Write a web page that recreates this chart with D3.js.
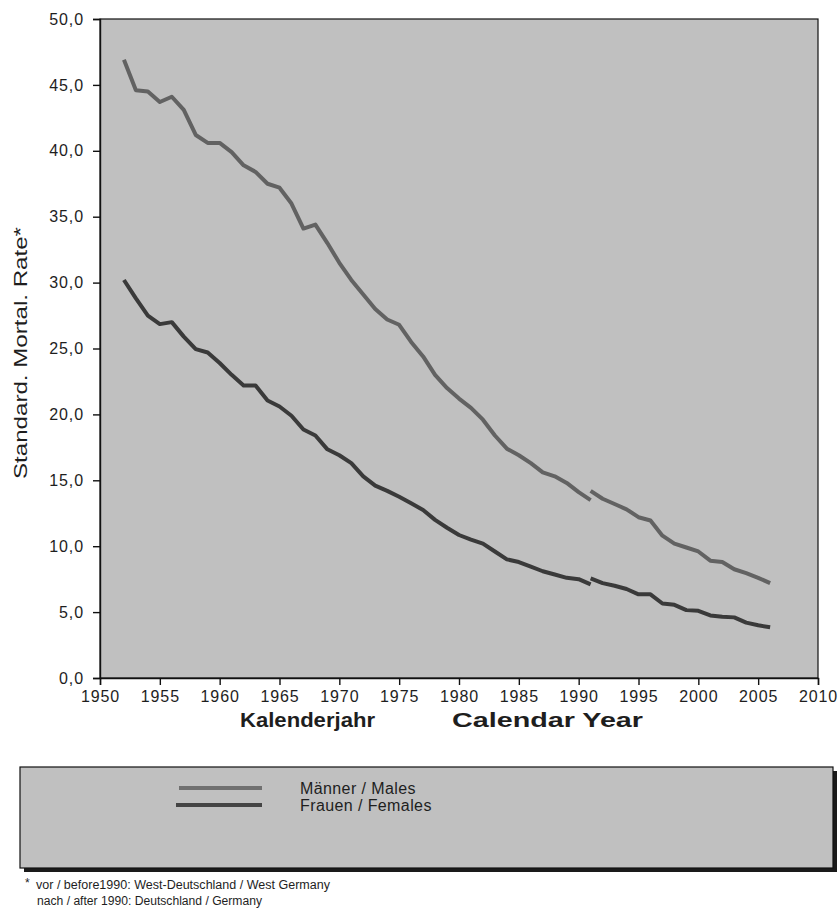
<!DOCTYPE html>
<html>
<head>
<meta charset="utf-8">
<script src="https://cdn.jsdelivr.net/npm/d3@7"></script>
<style>
  html, body { margin: 0; padding: 0; background: #fff; }
  svg { display: block; }
  text { font-family: Arial, "Liberation Sans", sans-serif; fill: #1e1e1e; }
</style>
</head>
<body>
<svg id="chart" width="840" height="917"></svg>
<script>
// Standardised mortality rate by calendar year
const yearsWest = d3.range(1952, 1992);   // 1952–1991, West Germany
const yearsAll  = d3.range(1991, 2007);   // 1991–2006, Germany

const malesWest = [46.9, 44.6, 44.5, 43.7, 44.1, 43.1, 41.2, 40.6, 40.6, 39.9,
                   38.9, 38.4, 37.5, 37.2, 36.0, 34.1, 34.4, 33.0, 31.5, 30.2,
                   29.1, 28.0, 27.2, 26.8, 25.5, 24.4, 23.0, 22.0, 21.2, 20.5,
                   19.6, 18.4, 17.4, 16.9, 16.3, 15.6, 15.3, 14.8, 14.1, 13.5];
const femalesWest = [30.2, 28.8, 27.5, 26.85, 27.0, 25.9, 24.95, 24.7, 23.9, 23.0,
                     22.2, 22.2, 21.05, 20.6, 19.9, 18.85, 18.4, 17.35, 16.9, 16.3,
                     15.3, 14.6, 14.2, 13.75, 13.25, 12.75, 12.0, 11.4, 10.85, 10.5,
                     10.2, 9.6, 9.0, 8.8, 8.45, 8.1, 7.85, 7.6, 7.5, 7.1];
const malesAll = [14.2, 13.6, 13.2, 12.8, 12.2, 11.95, 10.8, 10.2, 9.9, 9.6,
                  8.9, 8.8, 8.25, 7.95, 7.6, 7.2];
const femalesAll = [7.55, 7.2, 7.0, 6.75, 6.35, 6.35, 5.65, 5.55, 5.15, 5.1,
                    4.75, 4.65, 4.6, 4.2, 4.0, 3.85];

const xTicks = d3.range(1950, 2011, 5);
const yTicks = d3.range(0, 50.1, 5);

const seriesNames = ["Männer / Males", "Frauen / Females"];
const seriesColors = ["#626262", "#3a3a3a"];
const legendColors = ["#707070", "#444444"];

const svg = d3.select("#chart");

const x = d3.scaleLinear().domain([1950, 2010]).range([100, 818]);
const y = d3.scaleLinear().domain([0, 50]).range([678, 19]);

const commaFmt = v => d3.format(".1f")(v).replace(".", ",");

// plot background
svg.append("rect")
  .attr("x", x(1950)).attr("y", y(50))
  .attr("width", x(2010) - x(1950)).attr("height", y(0) - y(50))
  .attr("fill", "#c0c0c0")
  .attr("stroke", "#111").attr("stroke-width", 1.2);

// axes
const xAxis = svg.append("g")
  .attr("transform", `translate(0,${y(0)})`)
  .call(d3.axisBottom(x).tickValues(xTicks).tickFormat(d3.format("d"))
        .tickSize(7).tickPadding(6));
const yAxis = svg.append("g")
  .attr("transform", `translate(${x(1950)},0)`)
  .call(d3.axisLeft(y).tickValues(yTicks).tickFormat(commaFmt)
        .tickSize(7).tickPadding(9));

[xAxis, yAxis].forEach(g => {
  g.select(".domain").attr("stroke", "#111").attr("stroke-width", 1.4);
  g.selectAll(".tick line").attr("stroke", "#111").attr("stroke-width", 1.4);
  g.selectAll(".tick text")
    .attr("font-size", 16).attr("letter-spacing", "0.9px")
    .attr("fill", "#262626")
    .style("font-family", "Arial, 'Liberation Sans', sans-serif");
});

// series lines
const line = d3.line().x(d => x(d[0])).y(d => y(d[1]));
const segments = [
  { years: yearsWest, values: malesWest,   s: 0 },
  { years: yearsAll,  values: malesAll,    s: 0 },
  { years: yearsWest, values: femalesWest, s: 1 },
  { years: yearsAll,  values: femalesAll,  s: 1 }
];
svg.append("g").selectAll("path")
  .data(segments).join("path")
  .attr("d", d => line(d.years.map((yr, i) => [yr, d.values[i]])))
  .attr("fill", "none")
  .attr("stroke", d => seriesColors[d.s])
  .attr("stroke-width", 4)
  .attr("stroke-linejoin", "round")
  .attr("stroke-linecap", "butt");

// axis titles
svg.append("text")
  .attr("transform", `translate(27,353) rotate(-90)`)
  .attr("text-anchor", "middle")
  .attr("font-size", 19)
  .attr("textLength", 252).attr("lengthAdjust", "spacingAndGlyphs")
  .text("Standard. Mortal. Rate*");

svg.append("text")
  .attr("x", 240).attr("y", 727)
  .attr("font-size", 20).attr("font-weight", "bold")
  .attr("textLength", 135).attr("lengthAdjust", "spacingAndGlyphs")
  .text("Kalenderjahr");
svg.append("text")
  .attr("x", 452).attr("y", 727)
  .attr("font-size", 20).attr("font-weight", "bold")
  .attr("textLength", 191).attr("lengthAdjust", "spacingAndGlyphs")
  .text("Calendar Year");

// legend box with drop shadow
const lg = svg.append("g");
lg.append("rect")
  .attr("x", 24).attr("y", 771).attr("width", 813).attr("height", 101)
  .attr("fill", "#1a1a1a");
lg.append("rect")
  .attr("x", 20).attr("y", 767).attr("width", 813).attr("height", 101)
  .attr("fill", "#c0c0c0").attr("stroke", "#111").attr("stroke-width", 1.2);

const legendRows = lg.selectAll("g.row")
  .data(seriesNames).join("g").attr("class", "row")
  .attr("transform", (d, i) => `translate(0,${788 + i * 17})`);
legendRows.append("line")
  .attr("x1", (d, i) => i === 0 ? 179 : 176).attr("x2", 262)
  .attr("y1", 0).attr("y2", 0)
  .attr("stroke", (d, i) => legendColors[i]).attr("stroke-width", 4);
legendRows.append("text")
  .attr("x", 300).attr("y", 6)
  .attr("font-size", 16).attr("letter-spacing", "0.4px")
  .attr("fill", "#262626")
  .text(d => d);

// footnote
svg.append("text").attr("x", 25).attr("y", 887).attr("font-size", 12).text("*");
svg.append("text").attr("x", 36).attr("y", 889).attr("font-size", 12.5)
  .attr("textLength", 294).attr("lengthAdjust", "spacingAndGlyphs")
  .text("vor / before1990: West-Deutschland / West Germany");
svg.append("text").attr("x", 37).attr("y", 905).attr("font-size", 12.5)
  .attr("textLength", 225).attr("lengthAdjust", "spacingAndGlyphs")
  .text("nach / after 1990: Deutschland / Germany");
</script>
</body>
</html>
